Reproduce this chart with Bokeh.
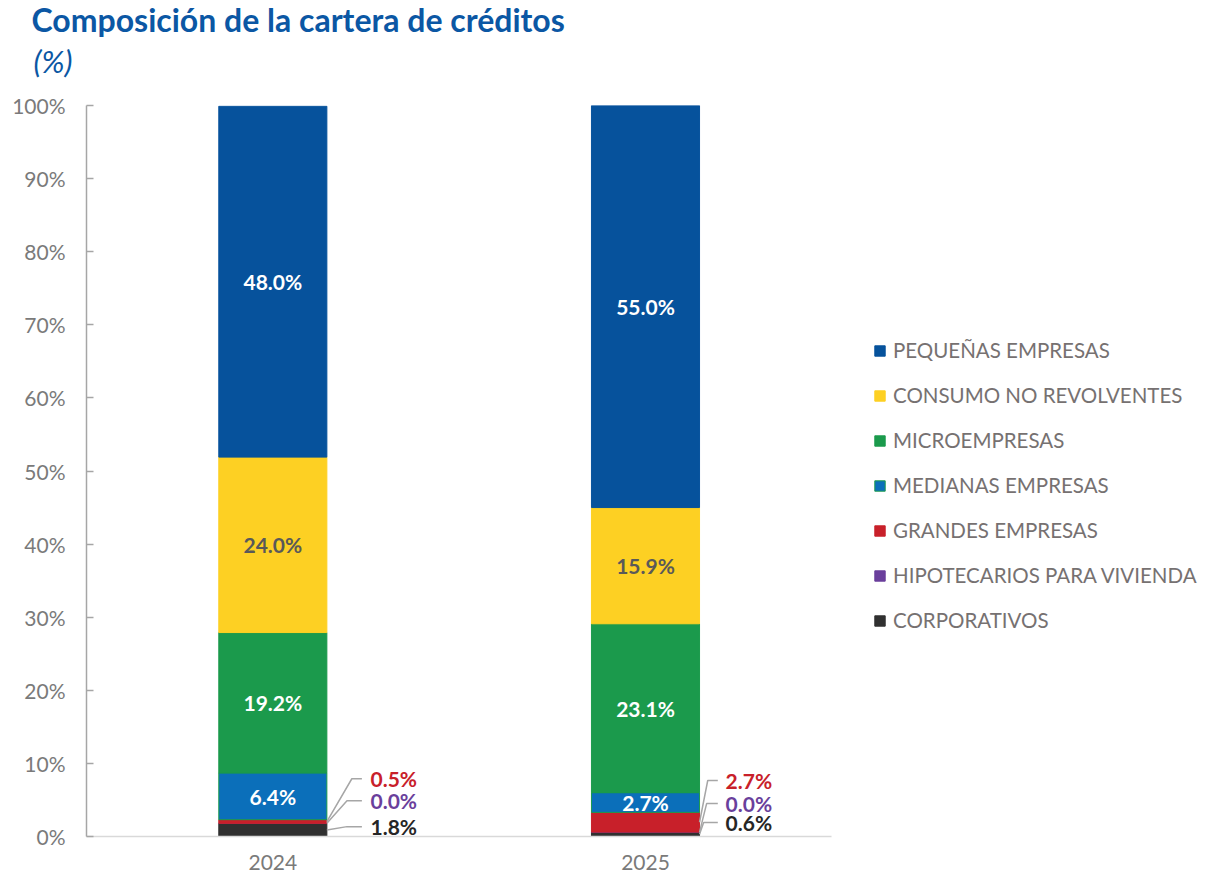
from bokeh.plotting import figure
from bokeh.models import (Range1d, FixedTicker, PrintfTickFormatter, Legend, LegendItem,
                          Title, ColumnDataSource, LabelSet)
from bokeh.embed import file_html
from bokeh.resources import INLINE
from bokeh.core.properties import value

# ---------------- data ----------------
years = ["2024", "2025"]
categories = ["CORPORATIVOS", "HIPOTECARIOS PARA VIVIENDA", "GRANDES EMPRESAS",
              "MEDIANAS EMPRESAS", "MICROEMPRESAS", "CONSUMO NO REVOLVENTES",
              "PEQUEÑAS EMPRESAS"]
corporativos = [1.8, 0.6]
hipotecarios = [0.0, 0.0]
grandes = [0.5, 2.7]
medianas = [6.4, 2.7]
microempresas = [19.2, 23.1]
consumo = [24.0, 15.9]
pequenas = [48.0, 55.0]
y_ticks = [0, 10, 20, 30, 40, 50, 60, 70, 80, 90, 100]

# ---------------- styles ----------------
FONT = "Lato"
colors = ["#303030", "#6a3f9c", "#c8202a", "#0b6fba", "#1b9a4c", "#fdd023", "#06529c"]
line_colors = ["#303030", "#6a3f9c", "#c8202a", "#1b9a4c", "#1b9a4c", "#fdd023", "#06529c"]
TITLE_BLUE = "#0b57a4"
GRAY = "#7a7a7a"
FS = "21px"

series = [corporativos, hipotecarios, grandes, medianas, microempresas, consumo, pequenas]
keys = ["corp", "hip", "gran", "med", "micro", "cons", "peq"]
xs = list(range(len(years)))
data = {"x": xs}
for k, s in zip(keys, series):
    data[k] = s
source = ColumnDataSource(data)

# frame extends to the right so the legend can sit inside it; the x axis is bounded
p = figure(width=1204, height=878, output_backend="svg", toolbar_location=None,
           x_range=Range1d(-0.5, 2.5), y_range=Range1d(0, 100),
           min_border_left=86, min_border_right=0, min_border_top=105,
           min_border_bottom=42, title=None, outline_line_color=None)
p.xgrid.visible = False
p.ygrid.visible = False

BAR_W = 0.29
renderers = p.vbar_stack(keys, x="x", width=BAR_W, source=source,
                         fill_color=colors, line_color=line_colors, line_width=1)

# ---------------- inside labels ----------------
cum = [0.0] * len(years)
bottoms = []
for s in series:
    bottoms.append(list(cum))
    cum = [c + v for c, v in zip(cum, s)]

inside = [(3, "white"), (4, "white"), (5, "#595959"), (6, "white")]
ix, iy, it, ic = [], [], [], []
for idx, col in inside:
    for j in range(len(years)):
        ix.append(xs[j])
        iy.append(bottoms[idx][j] + series[idx][j] / 2)
        it.append(f"{series[idx][j]:.1f}%")
        ic.append(col)
p.text(x=ix, y=iy, text=it, text_color=ic, text_align="center", text_baseline="middle",
       text_font=value(FONT), text_font_style="bold", text_font_size=FS)

# ---------------- outside labels with leader lines ----------------
out_idx = [2, 1, 0]
out_colors = ["#c8202a", "#6a3f9c", "#262626"]
label_y = [[7.9, 4.9, 1.35], [7.66, 4.5, 1.9]]
label_dx = [0.262, 0.215]
elbow_dx = [[0.212, 0.199, 0.199], [0.167, 0.164, 0.156]]
end_dx = [0.239, 0.194]

ox, oy, ot, oc = [], [], [], []
lx, ly = [], []
for j in range(len(years)):
    for k, idx in enumerate(out_idx):
        yc = bottoms[idx][j] + series[idx][j] / 2
        ox.append(xs[j] + label_dx[j])
        oy.append(label_y[j][k])
        ot.append(f"{series[idx][j]:.1f}%")
        oc.append(out_colors[k])
        lx.append([xs[j] + BAR_W / 2, xs[j] + elbow_dx[j][k], xs[j] + end_dx[j]])
        ly.append([yc, label_y[j][k], label_y[j][k]])
p.multi_line(xs=lx, ys=ly, line_color="#a6a6a6", line_width=1.5)
out_src = ColumnDataSource(dict(x=ox, y=oy, text=ot, color=oc))
p.add_layout(LabelSet(x="x", y="y", text="text", source=out_src, text_color="color",
                      text_align="left", text_baseline="middle",
                      text_font=value(FONT), text_font_style="bold",
                      text_font_size=FS))

# ---------------- axes ----------------
yax = p.yaxis[0]
yax.ticker = FixedTicker(ticks=y_ticks)
yax.formatter = PrintfTickFormatter(format="%d%%")
yax.axis_line_color = "#a6a6a6"
yax.axis_line_width = 1.5
yax.major_tick_line_color = "#a6a6a6"
yax.major_tick_line_width = 1.5
yax.major_tick_in = 7
yax.major_tick_out = 0
yax.minor_tick_line_color = None
yax.major_label_text_font = FONT
yax.major_label_text_font_size = FS
yax.major_label_text_color = GRAY
yax.major_label_standoff = 21

xax = p.xaxis[0]
xax.bounds = (-0.5, 1.5)
xax.ticker = FixedTicker(ticks=xs)
xax.major_label_overrides = {x: y for x, y in zip(xs, years)}
xax.axis_line_color = "#d9d9d9"
xax.axis_line_width = 1.5
xax.major_tick_line_color = None
xax.major_tick_in = 0
xax.major_tick_out = 0
xax.minor_tick_line_color = None
xax.minor_tick_in = 0
xax.minor_tick_out = 0
xax.axis_label_standoff = 0
xax.major_label_text_font = FONT
xax.major_label_text_font_size = FS
xax.major_label_text_line_height = 1.0
xax.major_label_text_color = GRAY
xax.major_label_standoff = 18

# ---------------- legend ----------------
items = [LegendItem(label=categories[i], renderers=[renderers[i]])
         for i in reversed(range(len(categories)))]
legend = Legend(items=items, location=(787, 204), orientation="vertical",
                label_text_font=FONT, label_text_font_size="20.5px",
                label_text_color="#767171", glyph_width=13, glyph_height=13,
                label_height=20, spacing=21, padding=0, margin=0,
                label_standoff=7, border_line_color=None, background_fill_alpha=0)
p.add_layout(legend)

# ---------------- titles ----------------
p.add_layout(Title(text="(%)", text_font=FONT, text_font_style="italic",
                   text_font_size="31px", text_color=TITLE_BLUE, align="left",
                   text_line_height=1.0, offset=-53, standoff=51), "above")
p.add_layout(Title(text="Composición de la cartera de créditos", text_font=FONT,
                   text_font_style="bold", text_font_size="32px", text_color=TITLE_BLUE,
                   text_line_height=0.5, align="left", offset=-55, standoff=-49), "above")

open("out.html", "w").write(file_html(p, INLINE))
